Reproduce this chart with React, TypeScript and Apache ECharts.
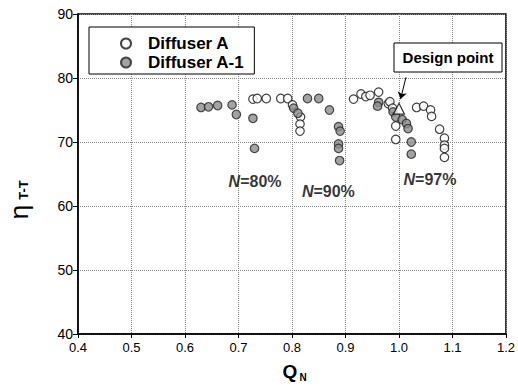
import React, { useEffect, useRef } from "react";
import * as echarts from "echarts";

const xTicks = [0.4, 1.2, 0.1];
const yTicks = [40, 90, 10];

const diffuserA: [number, number][] = [
  [0.727, 76.7], [0.735, 76.8], [0.752, 76.8], [0.779, 76.8], [0.792, 76.8],
  [0.801, 75.8], [0.816, 73.9], [0.815, 72.8], [0.815, 71.7],
  [0.915, 76.7], [0.929, 77.5], [0.938, 77.1], [0.946, 77.3], [0.962, 77.8],
  [0.980, 76.0], [0.983, 76.3], [0.988, 75.3], [0.994, 72.5], [0.994, 70.4],
  [1.033, 75.4], [1.046, 75.6], [1.059, 75.0], [1.061, 74.0], [1.076, 72.0],
  [1.085, 70.6], [1.085, 69.5], [1.085, 69.0], [1.085, 67.6],
];

const diffuserA1: [number, number][] = [
  [0.630, 75.4], [0.644, 75.5], [0.661, 75.7], [0.688, 75.8], [0.696, 74.3],
  [0.727, 73.7], [0.730, 69.0],
  [0.803, 75.3], [0.811, 74.5], [0.829, 76.8], [0.850, 76.8], [0.870, 75.0],
  [0.887, 72.4], [0.890, 71.7], [0.887, 69.7], [0.887, 69.0], [0.889, 67.1],
  [0.962, 76.2], [0.960, 75.6], [0.989, 74.7], [0.994, 73.9], [1.006, 73.5],
  [1.014, 72.9], [1.017, 72.1], [1.023, 70.0], [1.023, 68.1],
];

const designPoint: [number, number][] = [[1.0, 75.2]];
const designArrow: [number, number][] = [[1.013, 80.1], [1.003, 76.7]];

const speedLabels = ["N=80%", "N=90%", "N=97%"];
const speedLabelPos: [number, number][] = [[0.731, 63.8], [0.868, 62.2], [1.058, 64.1]];

const FONT = "'Liberation Sans', Arial, sans-serif";

export default function App() {
  const ref = useRef<HTMLDivElement>(null);
  useEffect(() => {
    if (!ref.current) return;
    const chart = echarts.init(ref.current, undefined, { renderer: "svg" });
    chart.setOption({
      animation: false,
      backgroundColor: "#fff",
      textStyle: { fontFamily: FONT },
      grid: {
        left: 78, right: 10, top: 14, bottom: 57,
        show: true, borderColor: "#000", borderWidth: 1.5,
      },
      legend: {
        left: 89, top: 27, orient: "vertical",
        data: ["Diffuser A", "Diffuser A-1"],
        backgroundColor: "#fff",
        borderColor: "#000", borderWidth: 1,
        padding: [8, 10, 3, 31],
        itemGap: 2, itemWidth: 10, itemHeight: 10,
        textStyle: { fontSize: 17, fontWeight: "bold", color: "#000", fontFamily: FONT, padding: [0, 0, 0, 12] },
      },
      xAxis: {
        type: "value", min: xTicks[0], max: xTicks[1], interval: xTicks[2],
        axisLine: { show: true, lineStyle: { color: "#000", width: 1.5 } },
        axisTick: { show: true, length: 4, lineStyle: { color: "#000" } },
        axisLabel: { color: "#000", fontSize: 13, margin: 7, formatter: (v: number) => v.toFixed(1) },
        splitLine: { show: true, lineStyle: { type: "dotted", color: "#888", width: 1 } },
      },
      yAxis: {
        type: "value", min: yTicks[0], max: yTicks[1], interval: yTicks[2],
        axisLine: { show: true, lineStyle: { color: "#000", width: 1.5 } },
        axisTick: { show: true, length: 5, lineStyle: { color: "#000" } },
        axisLabel: { color: "#000", fontSize: 14, margin: 5 },
        splitLine: { show: true, lineStyle: { type: "dotted", color: "#888", width: 1 } },
      },
      graphic: [
        { type: "text", x: 19, y: 212, rotation: Math.PI / 2,
          style: { text: "η", font: "26px " + FONT, fill: "#000", align: "center", verticalAlign: "middle" } },
        { type: "text", x: 23, y: 190, rotation: Math.PI / 2,
          style: { text: "T-T", font: "bold 13px " + FONT, fill: "#000", align: "center", verticalAlign: "middle" } },
        { type: "text", x: 290, y: 371,
          style: { text: "Q", font: "bold 19px " + FONT, fill: "#000", align: "center", verticalAlign: "middle" } },
        { type: "text", x: 303, y: 377,
          style: { text: "N", font: "bold 10px " + FONT, fill: "#000", align: "center", verticalAlign: "middle" } },
        { type: "rect", shape: { x: 394, y: 43, width: 108, height: 29 },
          style: { fill: "#fff", stroke: "#000", lineWidth: 1 }, z: 100 },
        { type: "text", x: 448, y: 57.5, z: 101,
          style: { text: "Design point", font: "bold 15px " + FONT, fill: "#000", align: "center", verticalAlign: "middle" } },
      ],
      series: [
        {
          name: "Diffuser A", type: "scatter", data: diffuserA, symbol: "circle", symbolSize: 8.5,
          itemStyle: { color: "#fff", borderColor: "#111", borderWidth: 1.2 },
        },
        {
          name: "Diffuser A-1", type: "scatter", data: diffuserA1, symbol: "circle", symbolSize: 8.5,
          itemStyle: { color: "#8c8c8c", borderColor: "#222", borderWidth: 1.2 },
        },
        {
          name: "Design point", type: "scatter", data: designPoint, symbol: "triangle", symbolSize: [11, 11],
          itemStyle: { color: "#fff", borderColor: "#000", borderWidth: 1.2 }, z: 5,
        },
        {
          name: "arrow", type: "lines", coordinateSystem: "cartesian2d",
          data: [{ coords: designArrow }], symbol: ["none", "arrow"], symbolSize: 7,
          lineStyle: { color: "#000", width: 1, opacity: 1 },
        },
        {
          name: "speed", type: "scatter", symbolSize: 0,
          data: speedLabelPos.map((p, i) => ({ value: p, name: speedLabels[i] })),
          label: {
            show: true, position: "inside", formatter: (p: any) => "{n|N}{r|" + p.name.slice(1) + "}",
            rich: {
              n: { fontSize: 16, fontWeight: "bold", fontStyle: "italic", color: "#000", fontFamily: FONT },
              r: { fontSize: 16, fontWeight: "bold", color: "#000", fontFamily: FONT },
            },
          },
        },
      ],
    });
    return () => chart.dispose();
  }, []);
  return <div ref={ref} style={{ position: "fixed", left: 0, top: 0, width: 518, height: 391 }} />;
}
